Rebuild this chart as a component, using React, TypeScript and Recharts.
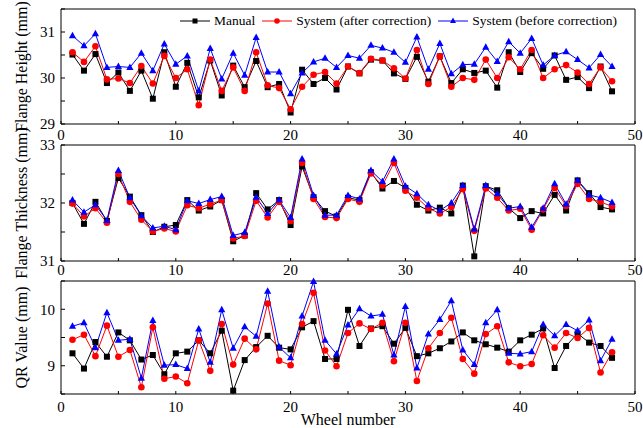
import React from 'react'
import { LineChart, Line, XAxis, YAxis, Legend } from 'recharts'

const wheels = [
  1, 2, 3, 4, 5, 6, 7, 8, 9, 10, 11, 12, 13, 14, 15, 16, 17, 18, 19, 20, 21, 22, 23, 24,
  25, 26, 27, 28, 29, 30, 31, 32, 33, 34, 35, 36, 37, 38, 39, 40, 41, 42, 43, 44, 45, 46, 47, 48,
]
const xTicks = [0, 5, 10, 15, 20, 25, 30, 35, 40, 45, 50]

const heightManual = [30.51, 30.16, 30.52, 29.89, 30.12, 29.72, 30.16, 29.55, 30.56, 29.81, 30.33, 29.58, 30.38, 29.62, 30.27, 29.8, 30.37, 29.8, 29.87, 29.25, 30.18, 29.87, 30.0, 29.75, 30.25, 30.1, 30.4, 30.38, 30.1, 29.98, 30.46, 29.92, 30.47, 29.89, 30.19, 30.11, 30.16, 29.79, 30.56, 30.13, 30.54, 30.2, 30.49, 29.96, 30.02, 29.78, 30.25, 29.71]
const heightAfter = [30.56, 30.35, 30.69, 29.97, 29.99, 29.89, 30.26, 29.88, 30.48, 30.0, 30.19, 29.41, 30.4, 29.72, 30.23, 29.72, 30.56, 29.84, 29.78, 29.32, 29.81, 30.07, 30.13, 29.88, 30.25, 30.11, 30.42, 30.38, 30.21, 29.99, 30.61, 29.87, 30.47, 29.81, 30.0, 29.96, 30.4, 30.0, 30.45, 30.19, 30.61, 30.0, 30.19, 30.28, 30.12, 29.87, 30.23, 29.93]
const heightBefore = [30.92, 30.7, 30.96, 30.23, 30.25, 30.23, 30.54, 30.16, 30.74, 30.3, 30.48, 29.72, 30.64, 29.98, 30.54, 30.06, 30.88, 30.13, 30.13, 29.66, 30.11, 30.35, 30.43, 30.23, 30.49, 30.43, 30.71, 30.65, 30.56, 30.34, 30.89, 30.19, 30.75, 30.09, 30.29, 30.3, 30.67, 30.36, 30.79, 30.54, 30.86, 30.28, 30.49, 30.57, 30.4, 30.22, 30.51, 30.25]

const thickManual = [32.0, 31.64, 32.02, 31.69, 32.43, 32.11, 31.79, 31.5, 31.59, 31.62, 32.05, 31.87, 31.94, 32.05, 31.34, 31.44, 32.17, 31.89, 32.05, 31.62, 32.63, 32.1, 31.86, 31.77, 32.09, 32.05, 32.53, 32.25, 32.38, 32.26, 31.97, 31.87, 31.92, 31.82, 32.3, 31.08, 32.29, 32.22, 31.91, 31.74, 31.86, 31.82, 32.14, 31.87, 32.39, 32.17, 31.93, 31.89]
const thickAfter = [31.99, 31.77, 31.91, 31.66, 32.5, 32.02, 31.71, 31.51, 31.56, 31.51, 31.96, 31.91, 31.98, 32.05, 31.39, 31.43, 32.04, 31.75, 32.02, 31.69, 32.69, 32.07, 31.76, 31.74, 32.07, 32.02, 32.51, 32.3, 32.69, 32.21, 32.09, 31.91, 31.82, 31.93, 32.24, 31.52, 32.25, 32.09, 31.87, 31.9, 31.54, 31.89, 32.26, 31.95, 32.33, 32.07, 32.02, 31.94]
const thickBefore = [32.05, 31.84, 31.97, 31.7, 32.56, 32.09, 31.78, 31.57, 31.6, 31.54, 32.04, 31.99, 32.06, 32.11, 31.44, 31.49, 32.1, 31.82, 32.05, 31.75, 32.76, 32.13, 31.79, 31.79, 32.13, 32.07, 32.56, 32.37, 32.76, 32.29, 32.16, 31.97, 31.87, 32.0, 32.3, 31.55, 32.3, 32.16, 31.91, 31.94, 31.58, 31.91, 32.33, 31.98, 32.39, 32.14, 32.09, 32.01]

const qrManual = [9.22, 8.95, 9.42, 9.16, 9.59, 9.45, 9.11, 9.19, 8.85, 9.22, 9.25, 9.45, 9.22, 9.62, 8.56, 9.1, 9.33, 9.53, 9.32, 9.29, 9.68, 9.79, 9.12, 9.12, 9.99, 9.35, 9.66, 9.7, 9.39, 9.67, 9.17, 9.22, 9.31, 9.43, 9.59, 9.45, 9.38, 9.32, 9.25, 9.45, 9.55, 9.66, 8.96, 9.35, 9.57, 9.41, 9.35, 9.14]
const qrAfter = [9.46, 9.55, 9.17, 9.71, 9.16, 9.28, 8.62, 9.68, 8.77, 8.81, 8.69, 9.45, 8.91, 9.74, 9.02, 9.48, 9.29, 10.1, 9.09, 9.01, 9.74, 10.29, 9.27, 8.99, 9.58, 9.75, 9.65, 9.76, 9.08, 9.76, 8.73, 9.31, 9.58, 9.85, 9.12, 8.86, 9.56, 9.7, 9.06, 8.99, 9.03, 9.54, 9.32, 9.58, 9.49, 9.67, 8.88, 9.24]
const qrBefore = [9.7, 9.76, 9.32, 9.94, 9.45, 9.47, 8.78, 9.8, 9.01, 9.02, 8.95, 9.65, 9.06, 9.99, 9.31, 9.69, 9.52, 10.32, 9.33, 9.14, 9.88, 10.49, 9.45, 9.21, 9.72, 10.01, 9.88, 9.91, 9.19, 10.05, 8.96, 9.56, 9.82, 10.15, 9.28, 9.02, 9.76, 9.99, 9.22, 9.21, 9.25, 9.73, 9.53, 9.73, 9.62, 9.81, 9.09, 9.47]

const FONT = "'Liberation Serif', 'Times New Roman', serif"
const BLACK = '#000000'
const RED = '#ff0000'
const BLUE = '#0000ff'

const square = (p: any) => (
  <rect key={p.index} x={p.cx - 3} y={p.cy - 3} width={6} height={6} fill={BLACK} />
)
const circle = (p: any) => <circle key={p.index} cx={p.cx} cy={p.cy} r={3.3} fill={RED} />
const triangle = (p: any) => (
  <path
    key={p.index}
    d={`M${p.cx},${p.cy - 4} L${p.cx + 3.6},${p.cy + 2.5} L${p.cx - 3.6},${p.cy + 2.5} Z`}
    fill={BLUE}
  />
)

function LegendMarker({ i }: { i: number }) {
  const c = [BLACK, RED, BLUE][i]
  return (
    <svg width={32} height={10} style={{ display: 'block' }}>
      <line x1={1} y1={5} x2={31} y2={5} stroke={c} strokeWidth={1} />
      {i === 0 && <rect x={13.5} y={2.5} width={5} height={5} fill={c} />}
      {i === 1 && <circle cx={16} cy={5} r={2.8} fill={c} />}
      {i === 2 && <path d="M16,1.5 L19,7 L13,7 Z" fill={c} />}
    </svg>
  )
}

function renderLegend(props: any) {
  const items = props.payload || []
  return (
    <div style={{ display: 'flex', alignItems: 'center', fontFamily: FONT, fontSize: 13.5, color: '#000', whiteSpace: 'nowrap' }}>
      {items.map((it: any, i: number) => (
        <div key={it.value} style={{ display: 'flex', alignItems: 'center', marginRight: 6 }}>
          <LegendMarker i={i} />
          <span style={{ marginLeft: 3 }}>{it.value}</span>
        </div>
      ))}
    </div>
  )
}

interface PanelProps {
  top: number
  height: number
  marginTop: number
  xHeight: number
  xTickMargin: number
  title: string
  domain: [number, number]
  yTicks: number[]
  manual: number[]
  after: number[]
  before: number[]
  legend?: boolean
  xLabel?: string
}

function Panel(p: PanelProps) {
  const data = wheels.map((w, i) => ({ w, m: p.manual[i], a: p.after[i], b: p.before[i] }))
  const yTitle = (lp: any) => {
    const vb = lp.viewBox
    const cy = vb.y + vb.height / 2
    return (
      <text
        x={21}
        y={cy}
        transform={`rotate(-90, 21, ${cy})`}
        textAnchor="middle"
        dominantBaseline="central"
        style={{ fontFamily: FONT, fontSize: 16, fill: '#000' }}
      >
        {p.title}
      </text>
    )
  }
  const tickStyle = { fontSize: 15, fill: '#000', style: { fontFamily: FONT } }
  return (
    <div style={{ position: 'absolute', left: 0, top: p.top }}>
      <LineChart
        width={643}
        height={p.height}
        data={data}
        margin={{ top: p.marginTop, right: 7, bottom: 1, left: 0 }}
      >
        <XAxis
          dataKey="w"
          type="number"
          domain={[0, 50]}
          ticks={xTicks}
          interval={0}
          height={p.xHeight}
          tickSize={-3}
          tickMargin={p.xTickMargin}
          tickFormatter={(v) => (v % 10 === 0 ? String(v) : '')}
          tick={tickStyle}
          axisLine={{ stroke: '#000' }}
          tickLine={{ stroke: '#000' }}
          label={
            p.xLabel
              ? { value: p.xLabel, position: 'insideBottom', offset: 2, style: { fontSize: 16, fill: '#000', fontFamily: FONT } }
              : undefined
          }
        />
        <XAxis
          xAxisId="t"
          orientation="top"
          dataKey="w"
          type="number"
          domain={[0, 50]}
          height={1}
          tick={false}
          tickLine={false}
          axisLine={{ stroke: '#000' }}
        />
        <YAxis
          type="number"
          domain={p.domain}
          ticks={p.yTicks}
          interval={0}
          width={61}
          tickSize={-4}
          tickMargin={10}
          tickFormatter={(v) => (Number.isInteger(v) ? String(v) : '')}
          tick={tickStyle}
          axisLine={{ stroke: '#000' }}
          tickLine={{ stroke: '#000' }}
          label={{ content: yTitle }}
        />
        <YAxis
          yAxisId="r"
          orientation="right"
          type="number"
          domain={p.domain}
          ticks={p.yTicks}
          interval={0}
          width={1}
          tickSize={-4}
          tick={false}
          axisLine={{ stroke: '#000' }}
          tickLine={{ stroke: '#000' }}
        />
        {p.legend && (
          <Legend
            layout="horizontal"
            verticalAlign="middle"
            align="center"
            content={renderLegend}
            wrapperStyle={{ top: 13, left: 179, width: 460 }}
          />
        )}
        <Line dataKey="m" name="Manual" stroke={BLACK} strokeWidth={1} dot={square} isAnimationActive={false} />
        <Line dataKey="a" name="System (after correction)" stroke={RED} strokeWidth={1} dot={circle} isAnimationActive={false} />
        <Line dataKey="b" name="System (before correction)" stroke={BLUE} strokeWidth={1} dot={triangle} isAnimationActive={false} />
      </LineChart>
    </div>
  )
}

export default function App() {
  return (
    <div
      style={{
        position: 'absolute',
        left: 0,
        top: 0,
        width: 643,
        height: 428,
        background: '#fff',
        overflow: 'hidden',
        fontFamily: FONT,
      }}
    >
      <style>{`.recharts-surface { overflow: visible; } .recharts-wrapper text { font-family: ${FONT}; }`}</style>
      <Panel
        top={0}
        height={142}
        marginTop={8}
        xHeight={17}
        xTickMargin={8}
        title="Flange Height (mm)"
        domain={[29, 31.5]}
        yTicks={[29, 29.5, 30, 30.5, 31, 31.5]}
        manual={heightManual}
        after={heightAfter}
        before={heightBefore}
        legend
      />
      <Panel
        top={142}
        height={137}
        marginTop={2}
        xHeight={17}
        xTickMargin={6}
        title="Flange Thickness (mm)"
        domain={[31, 33]}
        yTicks={[31, 31.5, 32, 32.5, 33]}
        manual={thickManual}
        after={thickAfter}
        before={thickBefore}
      />
      <Panel
        top={279}
        height={149}
        marginTop={1}
        xHeight={33}
        xTickMargin={10}
        title="QR Value (mm)"
        domain={[8.5, 10.5]}
        yTicks={[8.5, 9, 9.5, 10, 10.5]}
        manual={qrManual}
        after={qrAfter}
        before={qrBefore}
        xLabel="Wheel number"
      />
    </div>
  )
}
